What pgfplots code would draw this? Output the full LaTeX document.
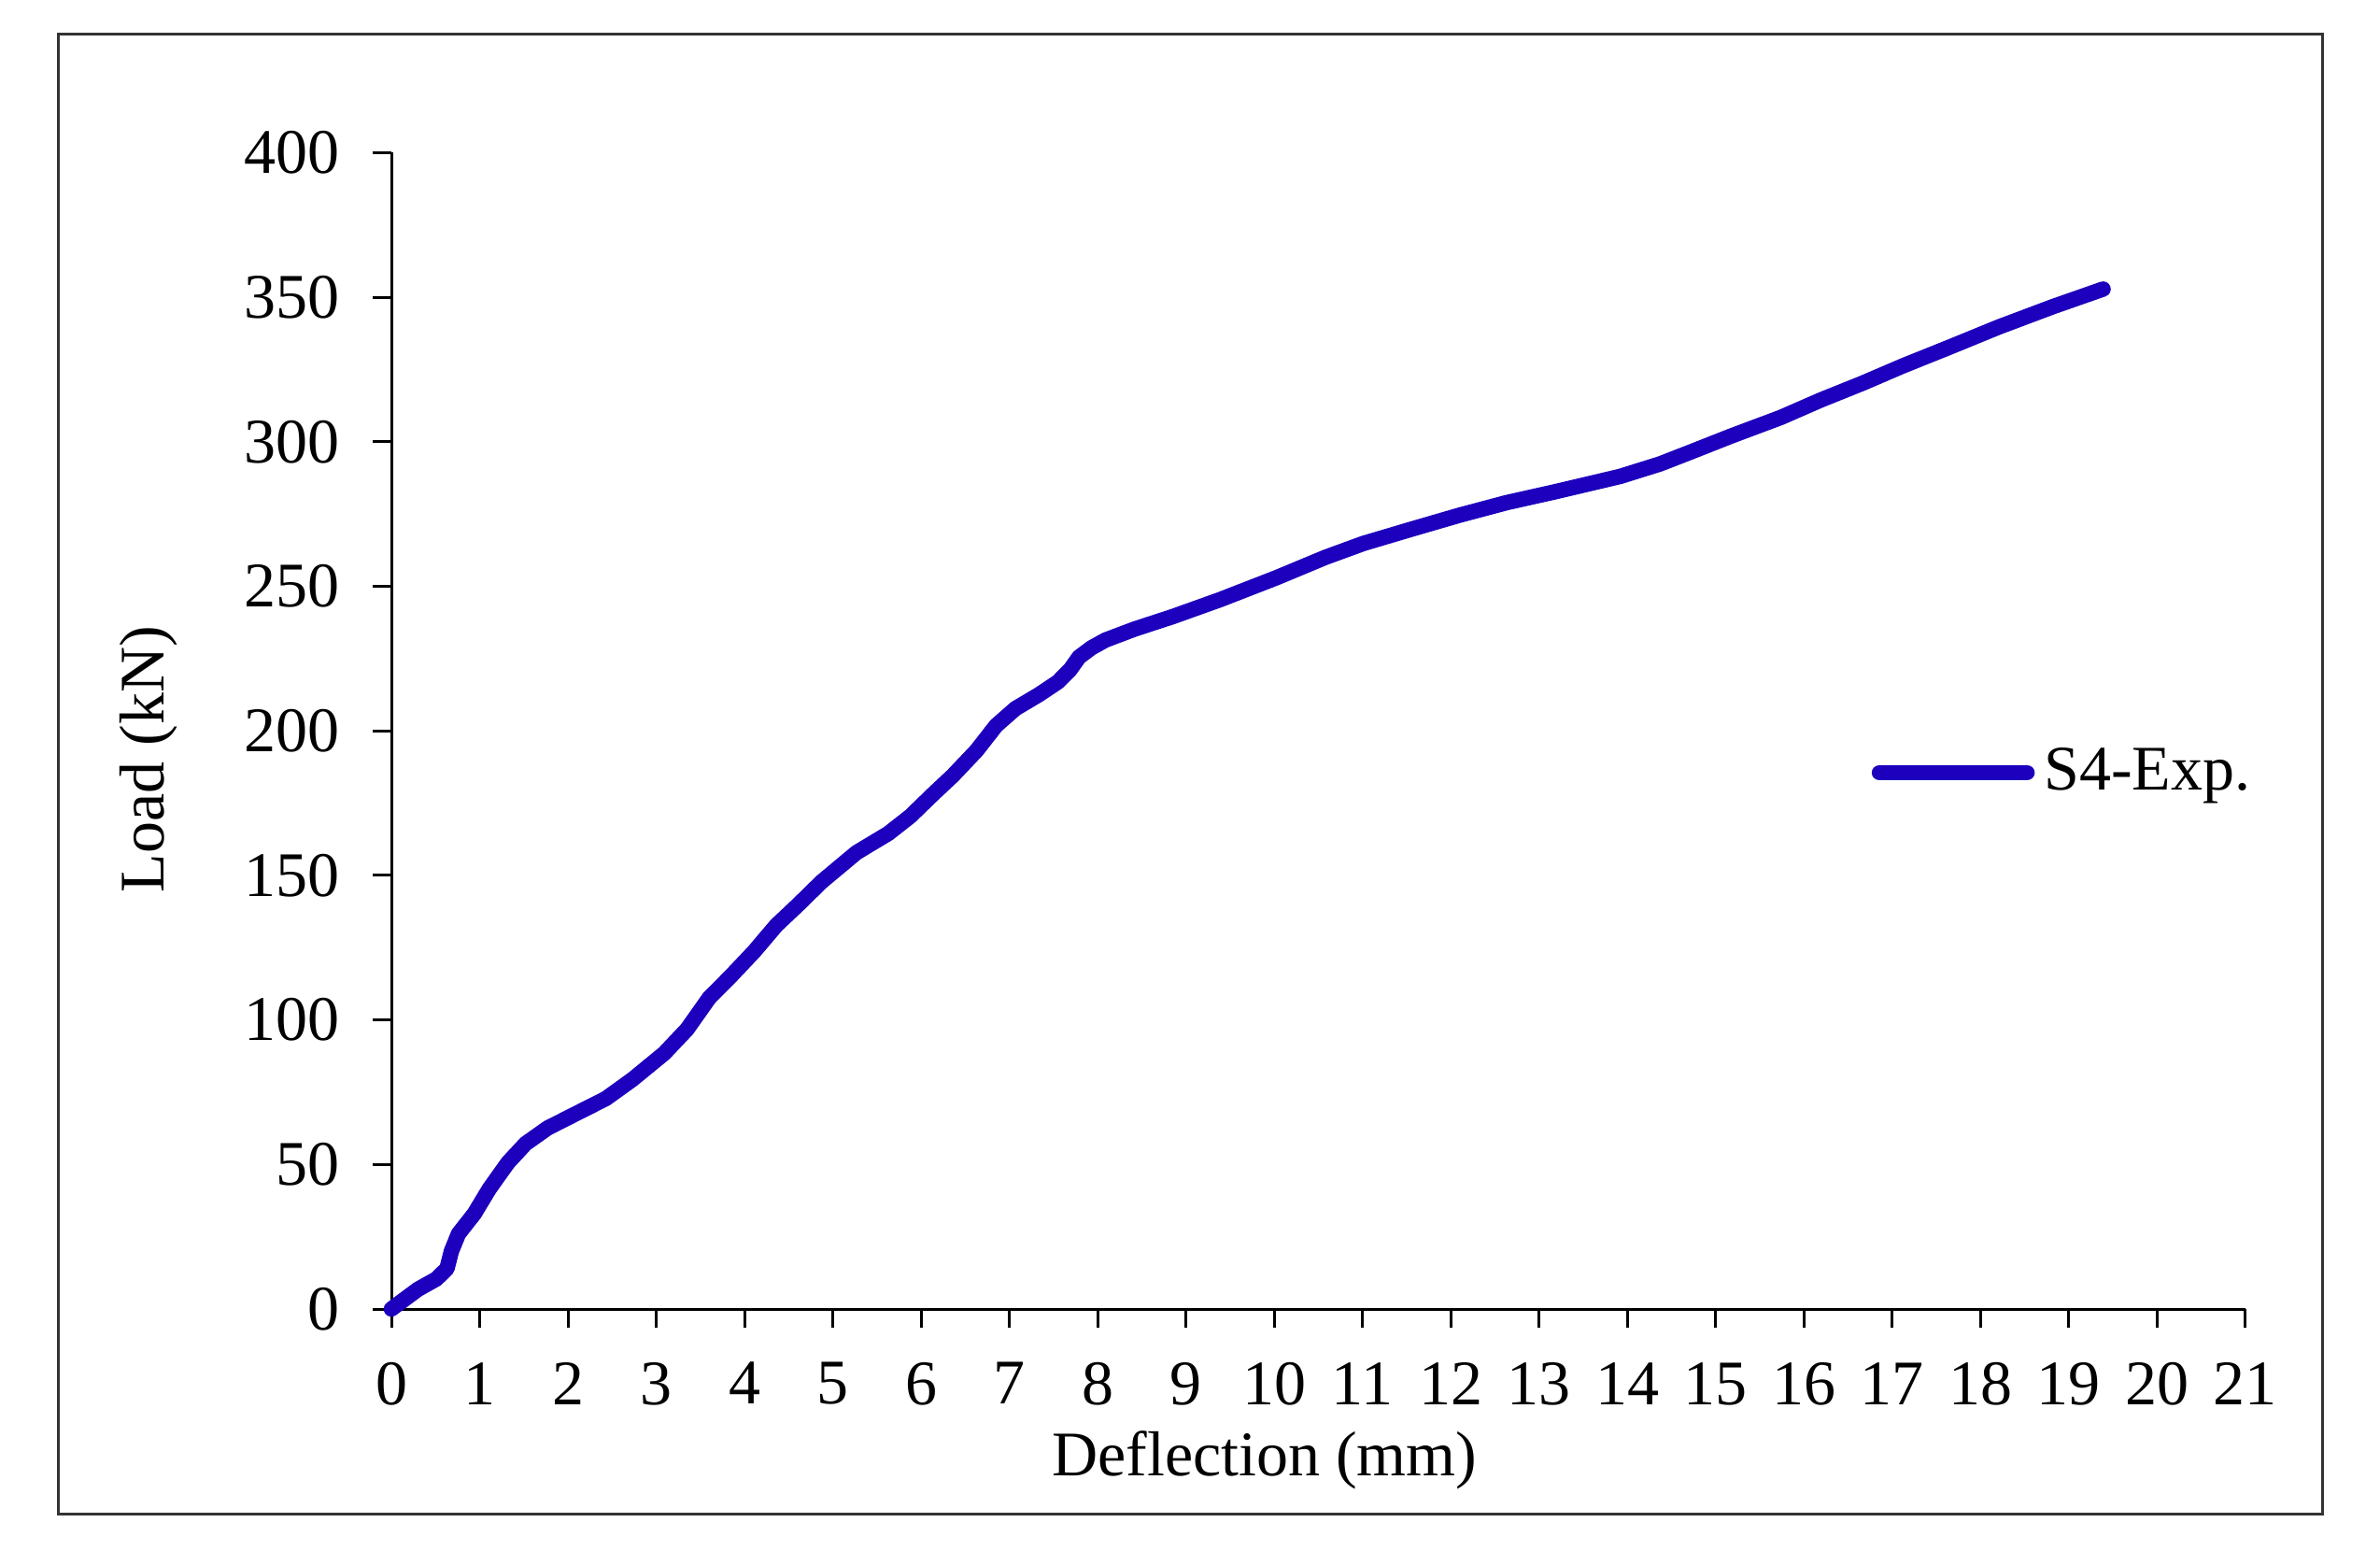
\documentclass[border=0pt]{standalone}
\usepackage{fontspec}
\setmainfont{Liberation Serif}
\usepackage{pgfplots}
\pgfplotsset{compat=1.18}
\definecolor{serieblue}{RGB}{28,0,190}
\newcommand{\chartfont}{\fontsize{13.6}{16.3}\selectfont}
\begin{document}
\begin{tikzpicture}
% overall picture and outer frame (1 px = 0.2pt)
\path (0pt,0pt) rectangle (509.6pt,-332pt);
\draw[line width=0.6pt, black!80] (12.4pt,-7.2pt) rectangle (497.2pt,-324pt);
\begin{axis}[
  at={(83.8pt,-280.2pt)}, anchor=south west,
  scale only axis,
  width=396.94pt, height=247.54pt,
  xmin=0, xmax=21, ymin=0, ymax=400,
  axis lines=left,
  axis line style={line width=0.6pt, -},
  xtick={0,1,...,21},
  ytick={0,50,...,400},
  tick align=outside,
  major tick length=4pt,
  tick style={line width=0.6pt, black},
  /pgf/number format/assume math mode=true,
  ticklabel style={font=\chartfont},
  xticklabel style={yshift=-3.9pt},
  yticklabel style={xshift=-3.6pt},
  label style={font=\chartfont},
  xlabel={Deflection (mm)},
  ylabel={Load (kN)},
  xlabel style={at={(axis description cs:0.471,-0.1309)}, anchor=center},
  ylabel style={at={(axis description cs:-0.131,0.4755)}, anchor=center, rotate=0},
  clip=false,
  legend style={font=\chartfont, draw=none, fill=none, at={(axis cs:16.60,185.5)}, anchor=west},
  legend image code/.code={\draw[#1, line cap=round] (0pt,0pt) -- (31.6pt,0pt);},
]
\addplot[color=serieblue, line width=3.3pt, line join=round, line cap=round] coordinates {
(0,0) (0.30,6.8) (0.51,10.4) (0.63,14) (0.68,20) (0.76,26) (0.94,33)
(1.11,41.6) (1.32,50.6) (1.52,57.2) (1.77,62.6) (2.08,67.4) (2.43,72.8)
(2.73,79.4) (3.09,88.4) (3.35,96.8) (3.60,107.6) (3.85,115.3) (4.11,123.7)
(4.36,132.7) (4.61,139.9) (4.87,147.7) (5.27,157.9) (5.63,164.5) (5.88,170.5)
(6.14,178.2) (6.36,184.5) (6.63,193.2) (6.85,201.8) (7.07,207.7) (7.34,212.6)
(7.55,216.9) (7.69,221.2) (7.79,225.5) (7.93,228.7) (8.09,231.4) (8.42,235.2)
(8.85,239.5) (9.39,245.4) (10.03,253.0) (10.58,260.0) (11.01,264.8) (11.55,269.7)
(12.09,274.5) (12.63,278.9) (13.17,282.6) (13.56,285.4) (13.92,288.0) (14.37,292.3)
(14.69,296.1) (15.18,302.0) (15.74,308.4) (16.19,314.4) (16.67,320.3) (17.12,326.2)
(17.65,332.7) (18.21,339.7) (18.82,346.7) (19.39,352.8)
};
\addlegendentry{S4-Exp.}
\end{axis}
\end{tikzpicture}
\end{document}
